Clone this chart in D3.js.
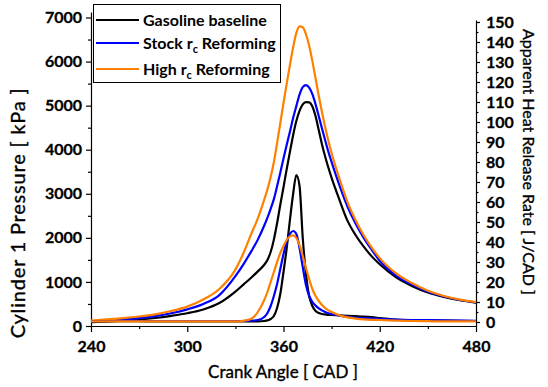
<!DOCTYPE html>
<html>
<head>
<meta charset="utf-8">
<script src="https://cdn.jsdelivr.net/npm/d3@7"></script>
<style>
  body { margin: 0; background: #fff; }
  svg { display: block; }
  text { font-family: Lato, "Open Sans", sans-serif; fill: #000; }
</style>
</head>
<body>
<svg id="chart" width="548" height="387"></svg>
<script>
// Crank angle samples [CAD]
const angle = [240,250,260,270,280,290,300,310,320,330,335,340,344,348,
  350,352,354,356,358,360,362,364,366,368,370,372,374,376,378,380,382,384,386,388,390,
  395,400,405,410,415,420,430,440,450,460,470,480];

// Cylinder 1 pressure [kPa]
const pressureBaseline = [85,100,120,145,181,230,290,375,520,780,940,1100,1240,1390,
  1500,1680,1960,2330,2750,3150,3560,3950,4330,4650,4880,5030,5080,5075,4980,4760,4440,4120,3840,3590,3360,
  2850,2380,2060,1800,1580,1400,1110,910,760,660,585,530];
const pressureStock = [105,122,148,180,225,290,378,500,700,1130,1400,1700,1960,2280,
  2460,2660,2880,3170,3480,3800,4110,4410,4720,4990,5250,5420,5465,5410,5260,5030,4760,4480,4210,3950,3720,
  3180,2700,2320,2000,1730,1480,1150,940,780,670,590,535];
const pressureHigh = [125,150,178,215,265,340,440,600,840,1280,1650,2100,2440,2870,
  3100,3380,3720,4150,4600,5060,5500,5920,6320,6650,6800,6780,6620,6360,6010,5620,5220,4850,4510,4200,3920,
  3330,2800,2400,2060,1780,1540,1200,975,800,680,598,540];

// Apparent heat release rate [J/CAD]
const hrrBaseline = [0.5,0.4,0.4,0.4,0.3,0.3,0.3,0.3,0.3,0.3,0.3,0.3,0.3,0.5,
  0.8,1.5,3,7,14,25,37,51,64,73.5,68,42,24,13,8,5.5,4.5,4,3.8,3.6,3.5,
  3.3,3.1,2.9,2.7,2.4,2,1.2,0.9,0.8,0.7,0.6,0.5];
const hrrStock = [0.5,0.5,0.5,0.5,0.5,0.5,0.5,0.5,0.5,0.5,0.5,0.7,1,2.5,
  4.5,8,13,19,26.5,34,40,44,45.5,44,37,27.5,18.5,13,10,8.2,6.8,5.8,5,4.4,4,
  3.2,2.6,2.2,2,1.8,1.6,1.2,1,0.9,0.8,0.7,0.6];
const hrrHigh = [0.3,0.3,0.3,0.3,0.3,0.3,0.3,0.3,0.3,0.3,0.6,1.6,5,11,
  15,20,25,30,34.5,38,41,42.8,43.3,42,38.5,33,27,21.5,16.5,13,10.5,8.5,7,5.8,5,
  3.3,2.3,1.7,1.3,1.1,1,0.7,0.5,0.4,0.3,0.3,0.3];

// Tick values
const xTicks = [240,300,360,420,480];
const xMinor = [270,330,390,450];
const pTicks = [0,1000,2000,3000,4000,5000,6000,7000];
const pMinor = [500,1500,2500,3500,4500,5500,6500];
const hTicks = d3.range(0,151,10);
const hMinor = d3.range(5,150,10);

const seriesNames = ["Gasoline baseline", "Stock r", "High r"];
const colors = ["#000000", "#0000ff", "#ff8000"];

const svg = d3.select("#chart");

const x = d3.scaleLinear().domain([240,480]).range([91,476]);
const yP = d3.scaleLinear().domain([0,7125]).range([326,12]);
const yH = d3.scaleLinear().domain([-2,151]).range([326,20]);

const tickFont = "bold 16px Lato, 'Open Sans', sans-serif";
const fmt = d3.format("d");

// X axis
svg.append("g").attr("transform","translate(0,326)")
  .call(d3.axisBottom(x).tickValues(xTicks).tickFormat(fmt).tickSize(6).tickPadding(9).tickSizeOuter(0));
svg.append("g").attr("transform","translate(0,326)")
  .call(d3.axisBottom(x).tickValues(xMinor).tickSize(3).tickFormat("").tickSizeOuter(0))
  .select(".domain").remove();

// Left axis
svg.append("g").attr("transform","translate(91,0)")
  .call(d3.axisLeft(yP).tickValues(pTicks).tickFormat(fmt).tickSize(5).tickPadding(4).tickSizeOuter(0));
svg.append("g").attr("transform","translate(91,0)")
  .call(d3.axisLeft(yP).tickValues(pMinor).tickSize(3).tickFormat("").tickSizeOuter(0))
  .select(".domain").remove();

// Right axis
svg.append("g").attr("transform","translate(476,0)")
  .call(d3.axisRight(yH).tickValues(hTicks).tickFormat(fmt).tickSize(4).tickPadding(6).tickSizeOuter(0));
svg.append("g").attr("transform","translate(476,0)")
  .call(d3.axisRight(yH).tickValues(hMinor).tickSize(2.5).tickFormat("").tickSizeOuter(0))
  .select(".domain").remove();

svg.selectAll(".tick text").style("font", tickFont).attr("fill","#000")
  .attr("stroke","#000").attr("stroke-width",0.3);
svg.selectAll(".domain, .tick line").attr("stroke","#000").attr("stroke-width",1.2);

// Curves
const lineP = d3.line().x((d,i)=>x(angle[i])).y(d=>yP(d)).curve(d3.curveMonotoneX);
const lineH = d3.line().x((d,i)=>x(angle[i])).y(d=>yH(d)).curve(d3.curveMonotoneX);

const plot = svg.append("g");
[pressureBaseline, pressureStock, pressureHigh].forEach((s,k)=>{
  plot.append("path").attr("d", lineP(s)).attr("fill","none")
    .attr("stroke", colors[k]).attr("stroke-width",2.2);
});
[hrrBaseline, hrrStock, hrrHigh].forEach((s,k)=>{
  plot.append("path").attr("d", lineH(s)).attr("fill","none")
    .attr("stroke", colors[k]).attr("stroke-width",2.2);
});

// Axis titles
const titleStyle = sel => sel.attr("stroke","#000").attr("stroke-width",0.35);
svg.append("text").attr("x",283).attr("y",378).attr("text-anchor","middle")
  .style("font-size","17px").call(titleStyle).text("Crank Angle [ CAD ]");
svg.append("text").attr("transform","translate(25,213) rotate(-90)")
  .attr("text-anchor","middle").style("font-size","20px").style("letter-spacing","0.8px")
  .call(titleStyle).text("Cylinder 1 Pressure [ kPa ]");
svg.append("text").attr("transform","translate(523,162) rotate(90)")
  .attr("text-anchor","middle").style("font-size","16px").call(titleStyle).text("Apparent Heat Release Rate [ J/CAD ]");

// Legend
const legend = svg.append("g");
legend.append("rect").attr("x",93.5).attr("y",4.5).attr("width",187).attr("height",78)
  .attr("fill","#fff").attr("stroke","#000").attr("stroke-width",1);
const rowsY = [20,43,69];
rowsY.forEach((yy,k)=>{
  legend.append("line").attr("x1",96).attr("x2",139).attr("y1",yy).attr("y2",yy)
    .attr("stroke",colors[k]).attr("stroke-width",2.2);
  const t = legend.append("text").attr("x",143).attr("y",yy+5.5)
    .style("font","bold 16px Lato, 'Open Sans', sans-serif");
  t.append("tspan").text(seriesNames[k]);
  if (k > 0) {
    t.append("tspan").attr("dy",4).style("font-size","11px").text("c");
    t.append("tspan").attr("dy",-4).text(" Reforming");
  }
});
</script>
</body>
</html>
